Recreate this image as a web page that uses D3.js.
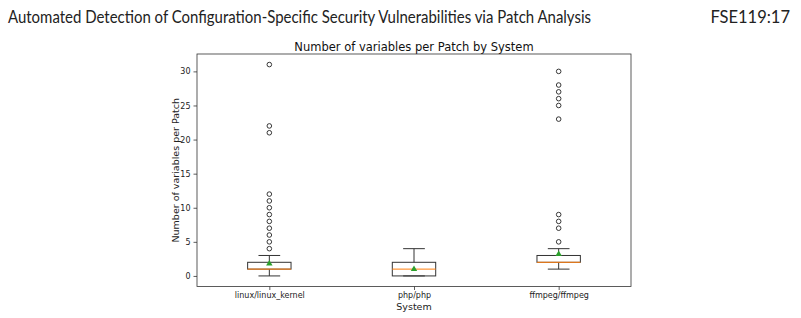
<!DOCTYPE html>
<html>
<head>
<meta charset="utf-8">
<script src="https://d3js.org/d3.v7.min.js"></script>
<style>
  body { margin: 0; background: #fff; }
  svg { display: block; }
</style>
</head>
<body>
<div id="chart"></div>
<script>
// data
const systems = ["linux/linux_kernel", "php/php", "ffmpeg/ffmpeg"];
const whiskLo = [0, 0, 1];
const q1 = [1, 0, 2];
const medians = [1, 1, 2];
const q3 = [2, 2, 3];
const whiskHi = [3, 4, 4];
const means = [1.8, 1.0, 3.2];
const outliers = [
  [4, 5, 6, 7, 8, 9, 10, 11, 12, 21, 22, 31],
  [],
  [5, 7, 8, 9, 23, 25, 26, 27, 28, 30]
];
const yTicks = [0, 5, 10, 15, 20, 25, 30];

const width = 801, height = 318;
const plot = { left: 197, right: 631, top: 54, bottom: 286.5 };

const svg = d3.select("#chart").append("svg")
  .attr("width", width).attr("height", height);

// page header
svg.append("text")
  .attr("x", 8).attr("y", 23)
  .attr("font-family", "Lato, 'Open Sans', sans-serif")
  .attr("font-size", 16.5)
  .attr("fill", "#222")
  .attr("textLength", 583)
  .attr("lengthAdjust", "spacingAndGlyphs")
  .text("Automated Detection of Configuration-Specific Security Vulnerabilities via Patch Analysis");
svg.append("text")
  .attr("x", 790).attr("y", 23)
  .attr("text-anchor", "end")
  .attr("font-family", "Lato, 'Open Sans', sans-serif")
  .attr("font-size", 16.5)
  .attr("fill", "#222")
  .text("FSE119:17");

const x = d3.scaleLinear().domain([0.5, 3.5]).range([plot.left, plot.right]);
const y = d3.scaleLinear().domain([-1.55, 32.55]).range([plot.bottom, plot.top]);
const boxW = x(1.3) - x(1);
const capW = x(1.15) - x(1);

const font = "'DejaVu Sans', sans-serif";

// title
svg.append("text")
  .attr("x", (plot.left + plot.right) / 2).attr("y", 51)
  .attr("text-anchor", "middle")
  .attr("font-family", font).attr("font-size", 11.5)
  .attr("fill", "#111")
  .text("Number of variables per Patch by System");

// axes
const yAxis = svg.append("g")
  .attr("transform", `translate(${plot.left},0)`)
  .call(d3.axisLeft(y).tickValues(yTicks).tickSize(3.5).tickPadding(3));
const xAxis = svg.append("g")
  .attr("transform", `translate(0,${plot.bottom})`)
  .call(d3.axisBottom(x).tickValues([1, 2, 3]).tickFormat((d, i) => systems[i]).tickSize(3.5).tickPadding(2.5));
[yAxis, xAxis].forEach(a => {
  a.select(".domain").remove();
  a.selectAll("line").attr("stroke", "#333").attr("stroke-width", 0.8);
  a.selectAll("text").attr("font-family", font).attr("font-size", 8).attr("fill", "#222");
});

svg.append("rect")
  .attr("x", plot.left).attr("y", plot.top)
  .attr("width", plot.right - plot.left).attr("height", plot.bottom - plot.top)
  .attr("fill", "none").attr("stroke", "#333").attr("stroke-width", 0.8);

svg.append("text")
  .attr("transform", `translate(178.5,${(plot.top + plot.bottom) / 2}) rotate(-90)`)
  .attr("text-anchor", "middle")
  .attr("font-family", font).attr("font-size", 9.5).attr("fill", "#222")
  .text("Number of variables per Patch");
svg.append("text")
  .attr("x", (plot.left + plot.right) / 2).attr("y", 310)
  .attr("text-anchor", "middle")
  .attr("font-family", font).attr("font-size", 9.5).attr("fill", "#222")
  .text("System");

// boxes
systems.forEach((s, i) => {
  const cx = x(i + 1);
  const g = svg.append("g");
  const ln = (x1, y1, x2, y2, c) => g.append("line")
    .attr("x1", x1).attr("y1", y1).attr("x2", x2).attr("y2", y2)
    .attr("stroke", c || "#333").attr("stroke-width", 1);
  // whiskers
  ln(cx, y(q1[i]), cx, y(whiskLo[i]));
  ln(cx, y(q3[i]), cx, y(whiskHi[i]));
  ln(cx - capW / 2, y(whiskLo[i]), cx + capW / 2, y(whiskLo[i]));
  ln(cx - capW / 2, y(whiskHi[i]), cx + capW / 2, y(whiskHi[i]));
  g.append("rect")
    .attr("x", cx - boxW / 2).attr("y", y(q3[i]))
    .attr("width", boxW).attr("height", y(q1[i]) - y(q3[i]))
    .attr("fill", "none").attr("stroke", "#333").attr("stroke-width", 1);
  ln(cx - boxW / 2, y(medians[i]), cx + boxW / 2, y(medians[i]), "#ff7f0e");
  // mean marker
  g.append("path")
    .attr("d", d3.symbol(d3.symbolTriangle, 18)())
    .attr("transform", `translate(${cx},${y(means[i])})`)
    .attr("fill", "#2ca02c");
  // fliers
  g.selectAll("circle").data(outliers[i]).enter().append("circle")
    .attr("cx", cx).attr("cy", d => y(d)).attr("r", 2.3)
    .attr("fill", "none").attr("stroke", "#222").attr("stroke-width", 0.9);
});
</script>
</body>
</html>
